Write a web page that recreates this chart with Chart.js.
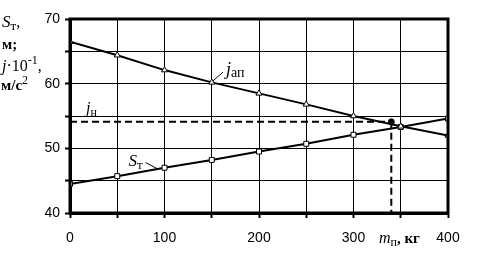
<!DOCTYPE html>
<html>
<head>
<meta charset="utf-8">
<script src="https://cdn.jsdelivr.net/npm/chart.js@4"></script>
<style>
  body { margin: 0; background: #fff; }
  canvas { display: block; }
</style>
</head>
<body>
<canvas id="chart" width="484" height="265"></canvas>
<script>
// payload mass, kg
const massValues = [0, 50, 100, 150, 200, 250, 300, 350, 400];
// j_ап * 10^-1, m/s^2
const japValues = [66.5, 64.4, 62.1, 60.2, 58.5, 56.8, 55.0, 53.4, 52.0];
// S_т, m
const stValues = [44.5, 45.7, 47.0, 48.2, 49.5, 50.7, 52.1, 53.3, 54.6];
// normative j_н and the resulting mass limit
const jnValue = 54.1;
const mpLimit = 340;

const serif = '"Liberation Serif", "Times New Roman", serif';
const sans = '"Liberation Sans", Arial, sans-serif';

function toPoints(xs, ys) {
    return xs.map((x, i) => ({ x: x, y: ys[i] }));
}

// draws pieces of text one after another: [text, font, dy]
function drawRuns(ctx, x, y, runs) {
    runs.forEach(r => {
        ctx.font = r[1];
        ctx.fillText(r[0], x, y + (r[2] || 0));
        x += ctx.measureText(r[0]).width;
    });
}

// frame, leader lines and all the labels
const decorPlugin = {
    id: 'decor',
    afterDraw(chart) {
        const ctx = chart.ctx;
        const a = chart.chartArea;
        const xs = chart.scales.x;
        const ys = chart.scales.y;
        const px = v => xs.getPixelForValue(v);
        const py = v => ys.getPixelForValue(v);

        ctx.save();
        ctx.strokeStyle = '#000';
        ctx.lineWidth = 3;
        ctx.strokeRect(a.left, a.top, a.right - a.left, a.bottom - a.top);

        // leader lines
        ctx.lineWidth = 1;
        ctx.beginPath();
        ctx.moveTo(px(151), py(60.4));
        ctx.lineTo(px(162), py(61.8));
        ctx.moveTo(px(80), py(47.8));
        ctx.lineTo(px(93), py(46.8));
        ctx.stroke();

        ctx.fillStyle = '#000';
        ctx.textBaseline = 'alphabetic';
        ctx.textAlign = 'left';

        const it = s => 'italic ' + s + 'px ' + serif;
        const rm = s => s + 'px ' + serif;
        const bd = s => 'bold ' + s + 'px ' + serif;

        drawRuns(ctx, px(165), py(61.3), [['j', it(18)], ['ап', rm(14), 2]]);
        drawRuns(ctx, px(62), py(47.2), [['S', it(17)], ['т', rm(13), 3]]);
        drawRuns(ctx, px(17), py(55.5), [['j', it(16)], ['н', rm(12), 3]]);

        // y axis title
        drawRuns(ctx, 2, 27, [['S', it(17)], ['т', rm(13), 3], [',', rm(16)]]);
        drawRuns(ctx, 2, 49, [['м;', bd(15)]]);
        drawRuns(ctx, 2, 71, [['j', it(16)], ['·10', rm(16)], ['-1', rm(12), -7], [',', rm(16)]]);
        drawRuns(ctx, 1, 90, [['м/с', bd(15)], ['2', rm(12), -6]]);

        // x axis title
        drawRuns(ctx, 379, 243, [['m', it(16)], ['п', rm(12), 3], [', кг', bd(15)]]);
        ctx.restore();
    }
};

new Chart(document.getElementById('chart'), {
    type: 'scatter',
    data: {
        datasets: [
            {
                label: 'jн',
                data: [{ x: 0, y: jnValue }, { x: mpLimit, y: jnValue }],
                showLine: true,
                borderColor: '#000',
                borderWidth: 2,
                borderDash: [7, 4],
                pointRadius: 0
            },
            {
                label: 'mп',
                data: [{ x: mpLimit, y: jnValue }, { x: mpLimit, y: 40 }],
                showLine: true,
                borderColor: '#000',
                borderWidth: 2,
                borderDash: [7, 4],
                pointRadius: 0
            },
            {
                label: 'jап',
                data: toPoints(massValues, japValues),
                showLine: true,
                borderColor: '#000',
                borderWidth: 2,
                pointStyle: 'triangle',
                pointRadius: 3.5,
                pointBorderWidth: 1,
                pointBackgroundColor: '#fff',
                pointBorderColor: '#000'
            },
            {
                label: 'Sт',
                data: toPoints(massValues, stValues),
                showLine: true,
                borderColor: '#000',
                borderWidth: 2,
                pointStyle: 'rect',
                pointRadius: 3.5,
                pointBorderWidth: 1,
                pointBackgroundColor: '#fff',
                pointBorderColor: '#000'
            },
            {
                label: 'limit',
                data: [{ x: mpLimit, y: jnValue }],
                pointRadius: 3,
                pointBackgroundColor: '#000',
                pointBorderColor: '#000'
            }
        ]
    },
    options: {
        responsive: false,
        animation: false,
        layout: { padding: { top: 19, right: 36, left: 0, bottom: 0 } },
        plugins: {
            legend: { display: false },
            tooltip: { enabled: false }
        },
        scales: {
            x: {
                type: 'linear',
                min: 0,
                max: 400,
                afterFit: scale => { scale.height = 52; },
                grid: { color: '#000', lineWidth: 1, tickLength: 5, tickColor: '#000', tickWidth: 2 },
                border: { color: '#000', width: 3 },
                ticks: {
                    stepSize: 50,
                    color: '#000',
                    font: { family: sans, size: 14 },
                    padding: 12,
                    maxRotation: 0,
                    autoSkip: false,
                    callback: v => (v % 100 === 0 ? v : '')
                }
            },
            y: {
                min: 40,
                max: 70,
                afterFit: scale => { scale.width = 70; },
                grid: { color: '#000', lineWidth: 1, tickLength: 5, tickColor: '#000', tickWidth: 2 },
                border: { color: '#000', width: 3 },
                ticks: {
                    stepSize: 5,
                    color: '#000',
                    font: { family: sans, size: 14 },
                    padding: 5,
                    autoSkip: false,
                    callback: v => (v % 10 === 0 ? v : '')
                }
            }
        }
    },
    plugins: [decorPlugin]
});
</script>
</body>
</html>
